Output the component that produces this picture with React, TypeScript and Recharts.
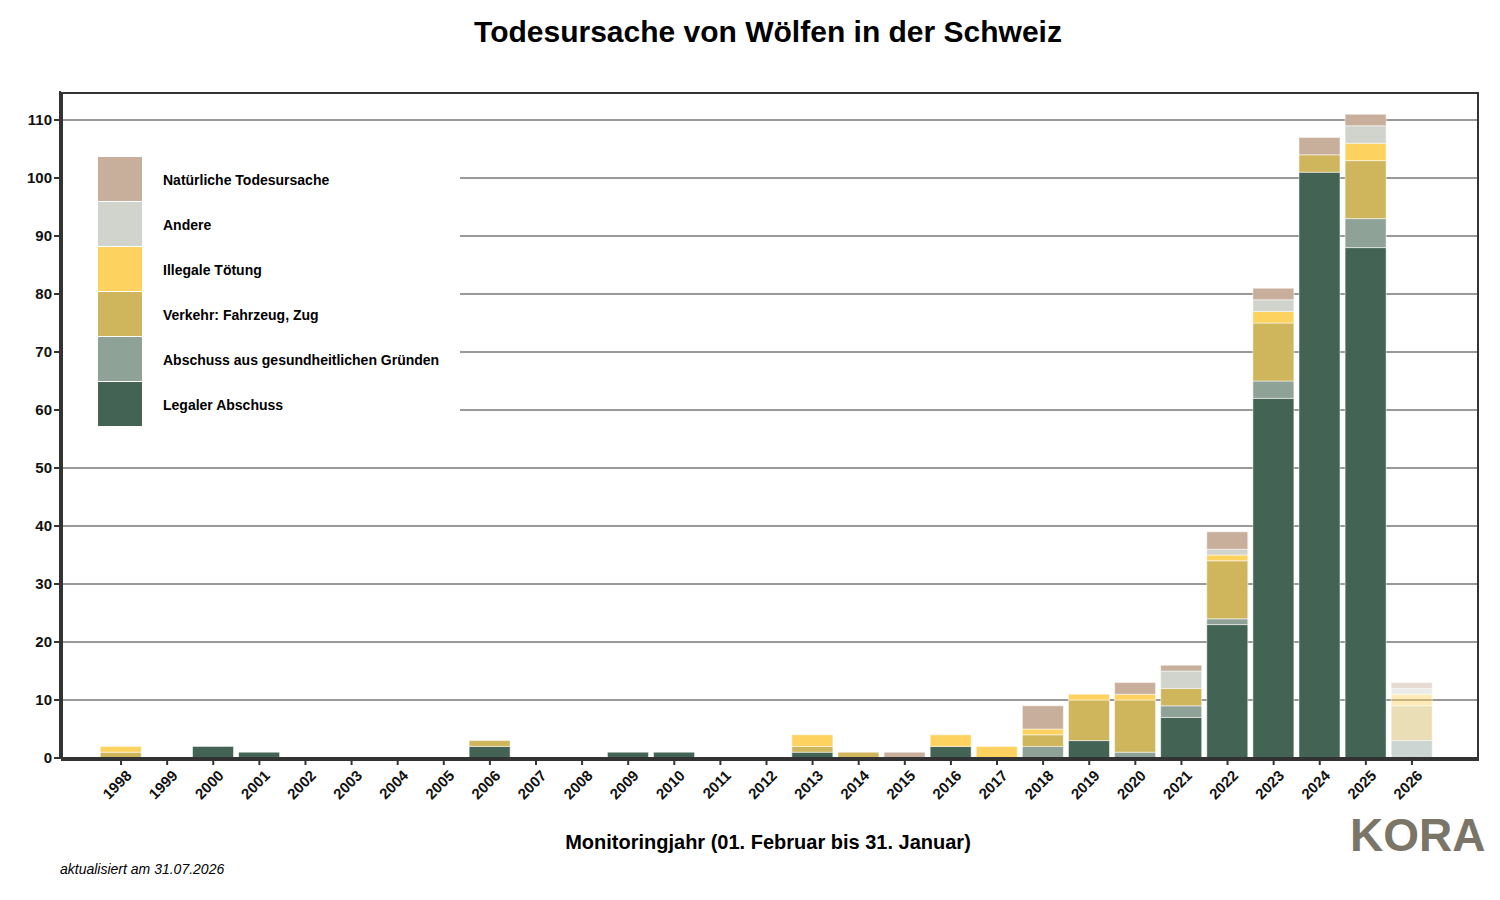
import { BarChart, Bar, XAxis, YAxis, CartesianGrid, Cell } from "recharts"

const years = ["1998","1999","2000","2001","2002","2003","2004","2005","2006","2007","2008","2009","2010","2011","2012","2013","2014","2015","2016","2017","2018","2019","2020","2021","2022","2023","2024","2025","2026"]
const legal   = [0,0,2,1,0,0,0,0,2,0,0,1,1,0,0,1,0,0,2,0,0,3,0,7,23,62,101,88,0]
const health  = [0,0,0,0,0,0,0,0,0,0,0,0,0,0,0,0,0,0,0,0,2,0,1,2,1,3,0,5,3]
const traffic = [1,0,0,0,0,0,0,0,1,0,0,0,0,0,0,1,1,0,0,0,2,7,9,3,10,10,3,10,6]
const illegal = [1,0,0,0,0,0,0,0,0,0,0,0,0,0,0,2,0,0,2,2,1,1,1,0,1,2,0,3,2]
const other   = [0,0,0,0,0,0,0,0,0,0,0,0,0,0,0,0,0,0,0,0,0,0,0,3,1,2,0,3,1]
const natural = [0,0,0,0,0,0,0,0,0,0,0,0,0,0,0,0,0,1,0,0,4,0,2,1,3,2,3,2,1]
const yTicks = [0,10,20,30,40,50,60,70,80,90,100,110]

const series = [
  { key: "legal", name: "Legaler Abschuss", color: "#436455", values: legal },
  { key: "health", name: "Abschuss aus gesundheitlichen Gründen", color: "#8fa298", values: health },
  { key: "traffic", name: "Verkehr: Fahrzeug, Zug", color: "#cfb65d", values: traffic },
  { key: "illegal", name: "Illegale Tötung", color: "#fed25f", values: illegal },
  { key: "other", name: "Andere", color: "#d1d4cd", values: other },
  { key: "natural", name: "Natürliche Todesursache", color: "#c8af9b", values: natural },
]

const data = years.map((y, i) => {
  const row: Record<string, number | string> = { year: y }
  series.forEach((s) => (row[s.key] = s.values[i]))
  return row
})

const font = "'Liberation Sans', Arial, sans-serif"

export default function App() {
  return (
    <div style={{ position: "absolute", left: 0, top: 0, width: 1500, height: 900, fontFamily: font, background: "#fff" }}>
      <div style={{ position: "absolute", top: 15, left: 18, width: 1500, textAlign: "center", fontSize: 30, fontWeight: "bold" }}>
        Todesursache von Wölfen in der Schweiz
      </div>
      <BarChart width={1500} height={900} data={data} margin={{ top: 91, right: 23, bottom: 82, left: 0 }} barCategoryGap="5%">
        <CartesianGrid vertical={false} stroke="#000" strokeOpacity={1} strokeWidth={0.8} horizontalValues={yTicks.slice(1)} />
        <XAxis
          dataKey="year"
          height={60}
          padding={{ left: 38, right: 42 }}
          interval={0}
          tickSize={7}
          stroke="#333"
          strokeWidth={2}
          tick={{ fontSize: 15, fontWeight: "bold", fill: "#111", angle: -45, textAnchor: "end", dx: 4, dy: 2 } as any}
        />
        <YAxis
          width={60}
          domain={[0, 115]}
          ticks={yTicks}
          interval={0}
          tickSize={6}
          stroke="#333"
          strokeWidth={2}
          tick={{ fontSize: 15, fontWeight: "bold", fill: "#111" }}
        />
        {series.map((s) => (
          <Bar key={s.key} dataKey={s.key} name={s.name} stackId="a" fill={s.color} stroke="#fff" strokeWidth={0.5} isAnimationActive={false}>
            {years.map((y) => (
              <Cell key={y} fillOpacity={y === "2026" ? 0.45 : 1} />
            ))}
          </Bar>
        ))}
      </BarChart>
      <div style={{ position: "absolute", left: 61, top: 92, width: 1414, height: 665, border: "2px solid #333", pointerEvents: "none" }} />
      <div style={{ position: "absolute", left: 63, top: 140, width: 397, height: 300, background: "#fff" }}>
        {[...series].reverse().map((s, i) => (
          <div key={s.key} style={{ position: "absolute", left: 35, top: 17 + i * 45, display: "flex", alignItems: "center" }}>
            <div style={{ width: 44, height: 44, background: s.color, borderBottom: "1px solid #fff" }} />
            <div style={{ marginLeft: 21, fontSize: 14, fontWeight: "bold" }}>{s.name}</div>
          </div>
        ))}
      </div>
      <div style={{ position: "absolute", top: 831, left: 38, width: 1460, textAlign: "center", fontSize: 20, fontWeight: "bold" }}>
        Monitoringjahr (01. Februar bis 31. Januar)
      </div>
      <div style={{ position: "absolute", top: 861, left: 60, fontSize: 14, fontStyle: "italic" }}>aktualisiert am 31.07.2026</div>
      <div style={{ position: "absolute", top: 808, left: 1350, fontSize: 46, fontWeight: "bold", color: "#7a7566" }}>KORA</div>
    </div>
  )
}
